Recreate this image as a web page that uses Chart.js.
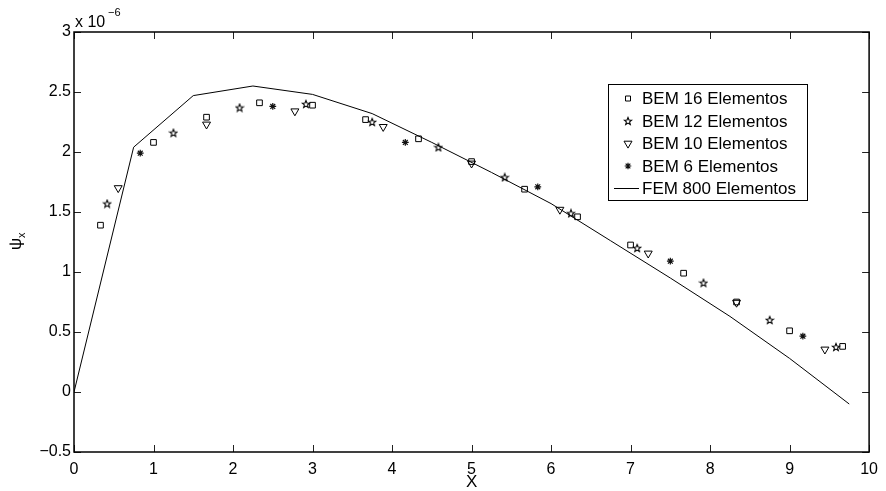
<!DOCTYPE html>
<html>
<head>
<meta charset="utf-8">
<script src="https://cdn.jsdelivr.net/npm/chart.js@4"></script>
<style>
  html, body { margin: 0; padding: 0; background: #fff; }
  canvas { display: block; }
</style>
</head>
<body>
<canvas id="grafico" width="886" height="491"></canvas>
<script>
// valores em unidades de 1e-6
const bem16X = [0.333, 1, 1.667, 2.333, 3, 3.667, 4.333, 5, 5.667, 6.333, 7, 7.667, 8.333, 9, 9.667];
const bem16Y = [1.39, 2.08, 2.29, 2.41, 2.39, 2.27, 2.11, 1.92, 1.69, 1.46, 1.225, 0.99, 0.75, 0.51, 0.38];

const bem12X = [0.417, 1.25, 2.083, 2.917, 3.75, 4.583, 5.417, 6.25, 7.083, 7.917, 8.75, 9.583];
const bem12Y = [1.57, 2.16, 2.37, 2.40, 2.25, 2.04, 1.79, 1.49, 1.20, 0.91, 0.60, 0.375];

const bem10X = [0.556, 1.667, 2.778, 3.889, 5, 6.111, 7.222, 8.333, 9.444];
const bem10Y = [1.70, 2.23, 2.34, 2.21, 1.905, 1.52, 1.155, 0.745, 0.355];

const bem6X = [0.833, 2.5, 4.167, 5.833, 7.5, 9.167];
const bem6Y = [1.99, 2.38, 2.08, 1.71, 1.09, 0.465];

const femX = [0, 0.75, 1.5, 2.25, 3, 3.75, 4.5, 5.25, 6, 6.75, 7.5, 8.25, 9, 9.75];
const femY = [0, 2.04, 2.47, 2.55, 2.48, 2.32, 2.08, 1.83, 1.57, 1.26, 0.95, 0.63, 0.28, -0.10];

const xTicks = [0, 1, 2, 3, 4, 5, 6, 7, 8, 9, 10];
const yTicks = [-0.5, 0, 0.5, 1, 1.5, 2, 2.5, 3];
const yTickLabels = ['\u22120.5', '0', '0.5', '1', '1.5', '2', '2.5', '3'];

const legendas = ['BEM 16 Elementos', 'BEM 12 Elementos', 'BEM 10 Elementos', 'BEM 6 Elementos', 'FEM 800 Elementos'];

const FONTE = '"Liberation Sans", Arial, Helvetica, sans-serif';

const pts = (xs, ys) => xs.map((x, i) => ({ x: x, y: ys[i] }));

// estrela de 5 pontas (contorno), usada como pointStyle
function fazEstrela() {
    const c = document.createElement('canvas');
    c.width = 10; c.height = 10;
    const g = c.getContext('2d');
    g.strokeStyle = '#000';
    g.lineWidth = 1.1;
    g.beginPath();
    for (let i = 0; i < 10; i++) {
        const r = i % 2 === 0 ? 3.9 : 1.7;
        const a = -Math.PI / 2 + i * Math.PI / 5;
        const px = 5 + r * Math.cos(a), py = 5.4 + r * Math.sin(a);
        if (i === 0) g.moveTo(px, py); else g.lineTo(px, py);
    }
    g.closePath();
    g.stroke();
    return c;
}
const estrela = fazEstrela();

function marcador(ctx, tipo, x, y) {
    ctx.save();
    ctx.strokeStyle = '#000';
    ctx.lineWidth = 1;
    ctx.beginPath();
    if (tipo === 'rect') {
        ctx.rect(x - 2.5, y - 2.5, 5, 5);
        ctx.stroke();
    } else if (tipo === 'estrela') {
        ctx.drawImage(estrela, x - 5, y - 5);
    } else if (tipo === 'tri') {
        ctx.moveTo(x - 4, y - 2.3);
        ctx.lineTo(x + 4, y - 2.3);
        ctx.lineTo(x, y + 4.6);
        ctx.closePath();
        ctx.stroke();
    } else if (tipo === 'ast') {
        ctx.strokeStyle = '#111';
        ctx.lineWidth = 1.2;
        for (let k = 0; k < 4; k++) {
            const a = k * Math.PI / 4;
            ctx.moveTo(x - 3.3 * Math.cos(a), y - 3.3 * Math.sin(a));
            ctx.lineTo(x + 3.3 * Math.cos(a), y + 3.3 * Math.sin(a));
        }
        ctx.stroke();
    } else if (tipo === 'linha') {
        ctx.moveTo(x - 14, y);
        ctx.lineTo(x + 11, y);
        ctx.stroke();
    }
    ctx.restore();
}

const moldura = {
    id: 'moldura',
    afterDraw(chart) {
        const { ctx, chartArea: a, scales: { x, y } } = chart;
        ctx.save();

        // ticks para dentro nos quatro lados
        ctx.strokeStyle = '#222';
        ctx.lineWidth = 1;
        ctx.beginPath();
        xTicks.forEach(v => {
            const px = Math.round(x.getPixelForValue(v)) + 0.5;
            ctx.moveTo(px, a.bottom); ctx.lineTo(px, a.bottom - 7);
            ctx.moveTo(px, a.top); ctx.lineTo(px, a.top + 7);
        });
        yTicks.forEach(v => {
            const py = Math.round(y.getPixelForValue(v)) + 0.5;
            ctx.moveTo(a.left, py); ctx.lineTo(a.left + 7, py);
            ctx.moveTo(a.right, py); ctx.lineTo(a.right - 7, py);
        });
        ctx.stroke();

        ctx.strokeStyle = '#000';
        ctx.lineWidth = 1.5;
        ctx.strokeRect(a.left, a.top, a.right - a.left, a.bottom - a.top);

        // textos dos eixos
        ctx.fillStyle = '#000';
        ctx.font = '17px ' + FONTE;
        ctx.textAlign = 'center';
        ctx.textBaseline = 'alphabetic';
        ctx.fillText('X', x.getPixelForValue(5), 487);

        ctx.textAlign = 'left';
        ctx.font = '16px ' + FONTE;
        ctx.fillText('x 10', 75, 27);
        ctx.font = '11px ' + FONTE;
        ctx.fillText('\u22126', 108, 16);

        ctx.save();
        ctx.translate(21, 244);
        ctx.rotate(-Math.PI / 2);
        ctx.font = '17px ' + FONTE;
        const w = ctx.measureText('\u03c8').width;
        ctx.fillText('\u03c8', -w / 2, 0);
        ctx.font = '11px ' + FONTE;
        ctx.fillText('x', w / 2, 4);
        ctx.restore();

        // legenda
        const bx = 608, by = 84, bw = 199, bh = 116;
        ctx.fillStyle = '#fff';
        ctx.fillRect(bx, by, bw, bh);
        ctx.strokeStyle = '#000';
        ctx.lineWidth = 1;
        ctx.strokeRect(bx + 0.5, by + 0.5, bw, bh);
        const tipos = ['rect', 'estrela', 'tri', 'ast', 'linha'];
        ctx.font = '17px ' + FONTE;
        ctx.textBaseline = 'middle';
        ctx.fillStyle = '#000';
        legendas.forEach((txt, i) => {
            const ry = 98.5 + i * 22.5;
            marcador(ctx, tipos[i], 628, ry);
            ctx.fillText(txt, 642, ry + 1);
        });
        ctx.restore();
    }
};

new Chart(document.getElementById('grafico'), {
    type: 'scatter',
    data: {
        datasets: [
            { label: legendas[0], data: pts(bem16X, bem16Y), pointStyle: 'rect', pointRadius: 4, borderColor: '#000', backgroundColor: 'transparent', borderWidth: 1 },
            { label: legendas[1], data: pts(bem12X, bem12Y), pointStyle: estrela, pointRadius: 4, borderColor: '#000', backgroundColor: 'transparent', borderWidth: 1 },
            { label: legendas[2], data: pts(bem10X, bem10Y), pointStyle: 'triangle', rotation: 180, pointRadius: 4.6, borderColor: '#000', backgroundColor: 'transparent', borderWidth: 1 },
            { label: legendas[3], data: pts(bem6X, bem6Y), pointStyle: 'star', pointRadius: 3.4, borderColor: '#111', backgroundColor: 'transparent', borderWidth: 1.2 },
            { label: legendas[4], type: 'line', data: pts(femX, femY), showLine: true, pointRadius: 0, borderColor: '#000', borderWidth: 1, tension: 0, fill: false }
        ]
    },
    options: {
        responsive: false,
        animation: false,
        events: [],
        layout: { padding: { top: 32, right: 14, left: 0, bottom: 0 } },
        plugins: { legend: { display: false }, tooltip: { enabled: false } },
        scales: {
            x: {
                type: 'linear', min: 0, max: 10,
                afterBuildTicks: s => { s.ticks = xTicks.map(v => ({ value: v })); },
                afterFit: s => { s.height = 39; },
                grid: { display: false, drawTicks: false },
                border: { display: false },
                ticks: { color: '#000', padding: 8, maxRotation: 0, font: { family: FONTE, size: 16 } }
            },
            y: {
                type: 'linear', min: -0.5, max: 3,
                afterBuildTicks: s => { s.ticks = yTicks.map(v => ({ value: v })); },
                afterFit: s => { s.width = 74; },
                grid: { display: false, drawTicks: false },
                border: { display: false },
                ticks: {
                    color: '#000', padding: 3, font: { family: FONTE, size: 16 },
                    callback: v => yTickLabels[yTicks.indexOf(v)]
                }
            }
        }
    },
    plugins: [moldura]
});
</script>
</body>
</html>
